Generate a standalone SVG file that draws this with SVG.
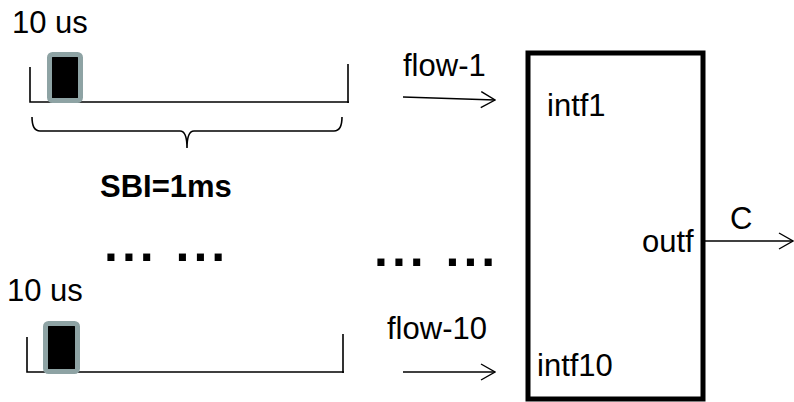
<svg xmlns="http://www.w3.org/2000/svg" width="794" height="402" viewBox="0 0 794 402">
<style>
.t{font-family:"Liberation Sans",Arial,sans-serif;font-size:31px;fill:#000}
.b{font-family:"Liberation Sans",Arial,sans-serif;font-weight:bold;fill:#000}
.ln{stroke:#000;stroke-width:1.6;fill:none}
.pulse{fill:#000;stroke:#8ea3a4;stroke-width:5}
.ar{stroke:#000;stroke-width:1.4;fill:none}
</style>
<defs>
<marker id="oa" markerWidth="16" markerHeight="18" refX="15" refY="9" orient="auto" markerUnits="userSpaceOnUse">
<path d="M1,1 L15,9 L1,17" fill="none" stroke="#000" stroke-width="1.4"/>
</marker>
</defs>
<g id="timeline1">
<text class="t" x="12" y="33">10 us</text>
<path class="ln" d="M30,67 V102 H349 M348,64 V103"/>
<rect class="pulse" x="49.5" y="54.5" width="31" height="46" rx="3"/>
<path class="ln" d="M32,117 Q32,131 40,131 L180,131 Q187,131 187,148 Q187,131 194,131 L334,131 Q342,131 342,117"/>
<text class="b" x="100" y="197" font-size="31">SBI=1ms</text>
</g>
<g id="dots">
<text class="b" x="104" y="261" font-size="50" letter-spacing="4">... ...</text>
<text class="b" x="374" y="266" font-size="50" letter-spacing="4">... ...</text>
</g>
<g id="timeline10">
<text class="t" x="7" y="301">10 us</text>
<path class="ln" d="M27,337 V372 H344 M343,334 V373"/>
<rect class="pulse" x="45.5" y="323.5" width="32" height="48" rx="3"/>
</g>
<g id="box">
<rect x="528" y="53" width="175" height="346" fill="none" stroke="#000" stroke-width="5"/>
<text class="t" x="547" y="116">intf1</text>
<text class="t" x="537" y="376">intf10</text>
<text class="t" x="642" y="252">outf</text>
</g>
<g id="connectors">
<line class="ar" x1="403" y1="97" x2="495" y2="100" marker-end="url(#oa)"/>
<line class="ar" x1="403" y1="372" x2="495" y2="372" marker-end="url(#oa)"/>
<line class="ar" x1="705" y1="241" x2="793" y2="241" marker-end="url(#oa)"/>
<text class="t" x="403" y="76">flow-1</text>
<text class="t" x="387" y="339">flow-10</text>
<text class="t" x="730" y="229" font-size="29">C</text>
</g>
</svg>
